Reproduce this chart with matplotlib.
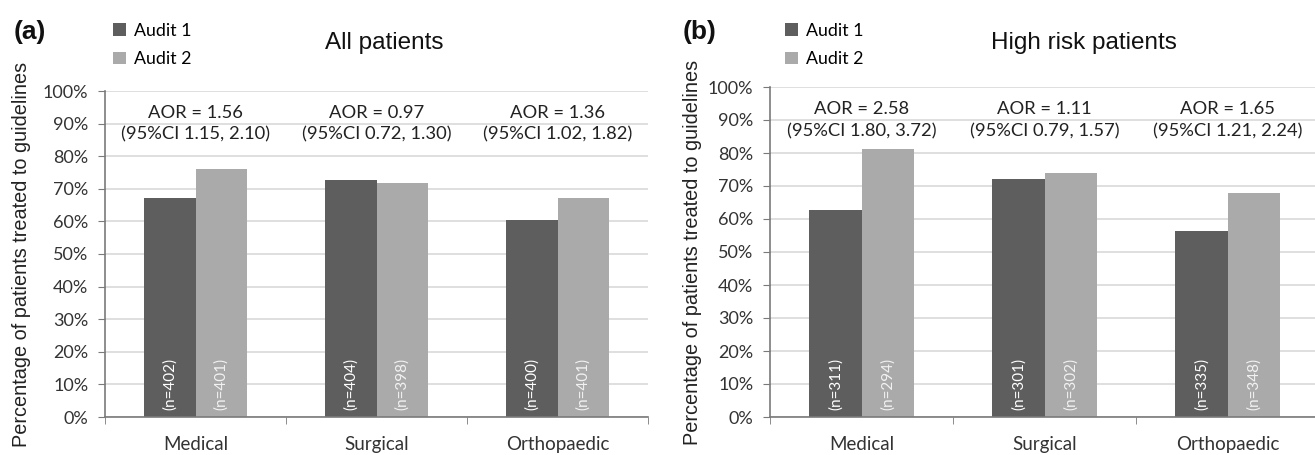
import matplotlib
matplotlib.use("Agg")
import matplotlib.pyplot as plt
import numpy as np

categories = ["Medical", "Surgical", "Orthopaedic"]
series_names = ["Audit 1", "Audit 2"]

all_audit1 = [67.3, 72.6, 60.3]
all_audit2 = [76.1, 71.9, 67.2]
all_n1 = ["(n=402)", "(n=404)", "(n=400)"]
all_n2 = ["(n=401)", "(n=398)", "(n=401)"]
all_aor = ["AOR = 1.56", "AOR = 0.97", "AOR = 1.36"]
all_ci = ["(95%CI 1.15, 2.10)", "(95%CI 0.72, 1.30)", "(95%CI 1.02, 1.82)"]

hr_audit1 = [62.7, 72.0, 56.5]
hr_audit2 = [81.1, 74.0, 68.0]
hr_n1 = ["(n=311)", "(n=301)", "(n=335)"]
hr_n2 = ["(n=294)", "(n=302)", "(n=348)"]
hr_aor = ["AOR = 2.58", "AOR = 1.11", "AOR = 1.65"]
hr_ci = ["(95%CI 1.80, 3.72)", "(95%CI 0.79, 1.57)", "(95%CI 1.21, 2.24)"]

yticks = [0, 10, 20, 30, 40, 50, 60, 70, 80, 90, 100]
ytick_labels = [f"{v}%" for v in yticks]

W, H = 1315, 455
fig = plt.figure(figsize=(W / 100, H / 100), dpi=100)

DARK = "#5e5e5e"
LIGHT = "#aaaaaa"
GRID = "#d9d9d9"
AXC = "#7a7a7a"
CAL = ["Lato", "DejaVu Sans"]
ARI = ["Liberation Sans", "DejaVu Sans"]


def px_ax(left, right, top, bottom):
    return fig.add_axes([left / W, 1 - bottom / H, (right - left) / W, (bottom - top) / H])


def panel(ax, a1, a2, n1, n2, aor, ci, title, letter, letter_x, title_x, leg_x):
    x = np.arange(len(categories))
    w = 0.285
    b1 = ax.bar(x - w / 2, a1, w, color=DARK, label=series_names[0], zorder=2)
    b2 = ax.bar(x + w / 2, a2, w, color=LIGHT, label=series_names[1], zorder=2)
    ax.set_xlim(-0.5, len(categories) - 0.5)
    ax.set_ylim(0, 100)
    ax.set_yticks(yticks)
    ax.set_yticklabels(ytick_labels, fontsize=13, family=CAL, color="#333333")
    ax.set_xticks(x)
    ax.set_xticklabels(categories, fontsize=13.5, family=CAL, color="#333333")
    ax.tick_params(axis="x", length=0, pad=14)
    ax.set_xticks(np.arange(len(categories) + 1) - 0.5, minor=True)
    ax.tick_params(axis="x", which="minor", length=5, color=AXC, direction="out")
    ax.tick_params(axis="y", length=5, color=AXC, direction="out", pad=7)
    ax.grid(axis="y", color=GRID, linewidth=1.2, zorder=0)
    ax.set_axisbelow(True)
    for s in ["top", "right"]:
        ax.spines[s].set_visible(False)
    for s in ["left", "bottom"]:
        ax.spines[s].set_color(AXC)
        ax.spines[s].set_linewidth(1.2)
    ax.spines["bottom"].set_zorder(3)
    for i in range(len(categories)):
        ax.text(x[i] - w / 2, 2.2, n1[i], rotation=90, ha="center", va="bottom",
                color="white", fontsize=11, family=CAL, zorder=3)
        ax.text(x[i] + w / 2, 2.2, n2[i], rotation=90, ha="center", va="bottom",
                color="#f2f2f2", fontsize=11, family=CAL, zorder=3)
        ax.text(x[i], 93.4, aor[i], ha="center", va="center", fontsize=13.2,
                family=CAL, color="#222222")
        ax.text(x[i], 86.6, ci[i], ha="center", va="center", fontsize=13.2,
                family=CAL, color="#222222")
    ax.set_ylabel("Percentage of patients treated to guidelines", fontsize=14.3,
                  family=ARI, color="#222222")
    fig.text(title_x / W, 1 - 43 / H, title, ha="center", va="center",
             fontsize=17.5, family=ARI, color="#111111")
    ax.legend(handles=[b1, b2], loc="upper left",
              bbox_to_anchor=(leg_x / W, 1 - 23 / H), bbox_transform=fig.transFigure,
              frameon=False, prop={"family": CAL, "size": 12.8},
              handlelength=0.72, handleheight=0.72, handletextpad=0.45,
              labelspacing=0.68, borderpad=0, borderaxespad=0)
    fig.text(letter_x / W, 1 - 32 / H, letter, ha="left", va="center",
             fontsize=19, fontweight="bold", family=ARI, color="#111111")


ax1 = px_ax(105, 648, 91, 417)
panel(ax1, all_audit1, all_audit2, all_n1, all_n2, all_aor, all_ci,
      "All patients", "(a)", 14, 384, 113)
ax1.yaxis.set_label_coords(-0.136, 0.5)

ax2 = px_ax(770, 1319, 87, 417)
panel(ax2, hr_audit1, hr_audit2, hr_n1, hr_n2, hr_aor, hr_ci,
      "High risk patients", "(b)", 683, 1084, 785)
ax2.yaxis.set_label_coords(-0.124, 0.5)

fig.savefig("out.png", dpi=100)
